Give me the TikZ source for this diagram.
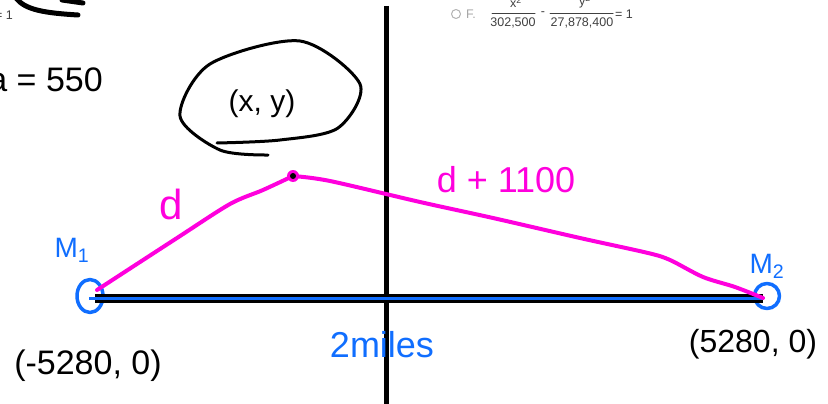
\documentclass[tikz,border=0pt]{standalone}
\usepackage{fontspec}
\setmainfont{Liberation Sans}
\usetikzlibrary{shapes.geometric}
\definecolor{inkpink}{RGB}{255,0,221}
\definecolor{inkblue}{RGB}{16,110,255}
\begin{document}
\begin{tikzpicture}[x=1pt,y=-1pt,line cap=round,line join=round,
  hand/.style={inner sep=0pt,font=\fontsize{#1}{#1}\selectfont},
  pinkline/.style={draw=inkpink,line width=4},
  grey/.style={inner sep=0pt,text=black!75,font=\fontsize{12.5}{14}\selectfont}]
\useasboundingbox (0,0) rectangle (828,404);
% leftovers of the page above
\draw[line width=5] (16,-2) .. controls (25,10) and (45,13) .. (78,15);
\draw[line width=5] (62,0) -- (83,3);
\node[grey,anchor=east] (eqone) at (13,15) {= 1};
\node[hand=34,anchor=east] (aval) at (103,80) {a = 550};
\draw[black!30,line width=1] (456,14) circle (4.5);
\node[grey,text=black!35,anchor=west] (optF) at (466,14) {F.};
\node[grey,anchor=base] (num1) at (516,8) {x\textsuperscript{2}};
\node[grey] (den1) at (513,23) {302,500};
\draw[black!75,line width=1] (492,14) -- (535,14);
\node[grey] (minus) at (543,14) {-};
\node[grey,anchor=base] (num2) at (585,6) {y\textsuperscript{2}};
\node[grey] (den2) at (582,23) {27,878,400};
\draw[black!75,line width=1] (550,14) -- (613,14);
\node[grey,anchor=west] (eqtwo) at (615,14) {= 1};
% axis and foci
\coordinate (ytop) at (386,6);
\coordinate (ybot) at (386,410);
\draw[line width=5,line cap=butt] (ytop) -- (ybot);
\coordinate (f1) at (95,298);
\coordinate (f2) at (763,298);
\node[draw=inkblue,line width=3.5,ellipse,minimum width=26,minimum height=33,inner sep=0pt] (ring1) at (90,296) {};
\node[draw=inkblue,line width=3.5,circle,minimum size=25,inner sep=0pt] (ring2) at (767,296) {};
\draw[line width=9,line cap=butt] (f1) -- (f2);
\draw[inkblue,line width=3,line cap=butt,shorten <=-6] (f1) -- (f2);
% point on the curve
\coordinate (pt) at (293,176);
\draw[pinkline] plot[smooth] coordinates {(97,290) (177,238) (230,204) (263,190) (pt)};
\draw[pinkline] plot[smooth,tension=0.5] coordinates {(pt) (330,181) (420,202) (493,218) (580,238) (648,253) (670,260) (703,277) (735,287) (f2)};
\fill[inkpink] (pt) circle (6);
\fill (pt) circle (3);
\node[hand=30] (xy) at (262,104) {(x, y)};
\draw[line width=3] plot[smooth] coordinates {(268,155) (220,150) (180,116) (210,64) (300,41) (360,84) (338,128) (280,140) (217,143)};
% labels
\node[hand=42,text=inkpink] (dl) at (171,204) {d};
\node[hand=36,text=inkpink] (dr) at (506,180) {d + 1100};
\node[hand=28,text=inkblue] (lm1) at (72,250) {M\textsubscript{1}};
\node[hand=28,text=inkblue] (lm2) at (767,266) {M\textsubscript{2}};
\node[hand=34] (c1) at (88,366) {(-5280, 0)};
\node[hand=32] (c2) at (753,344) {(5280, 0)};
\node[hand=36,text=inkblue] (len) at (382,345) {2miles};
\end{tikzpicture}
\end{document}
